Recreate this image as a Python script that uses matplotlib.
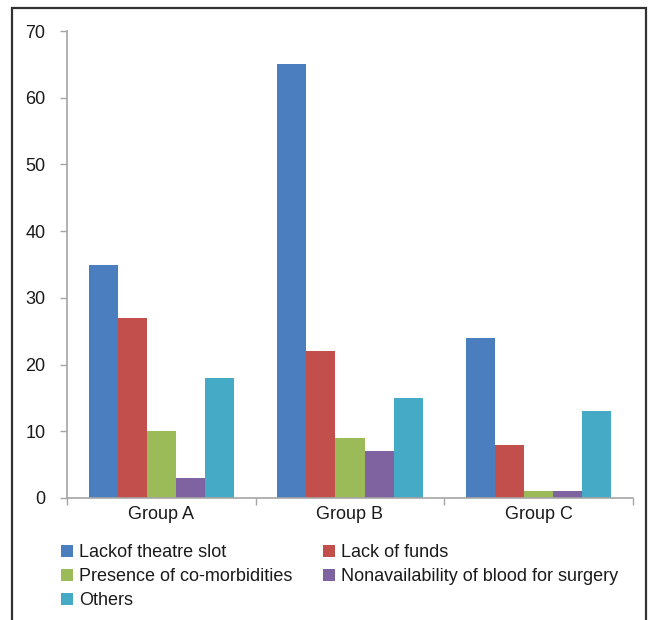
import matplotlib
matplotlib.use("Agg")
import matplotlib.pyplot as plt
from matplotlib.patches import Rectangle, Patch
import numpy as np

plt.rcParams['font.family'] = ['Liberation Sans', 'DejaVu Sans']

groups = ["Group A", "Group B", "Group C"]
series_names = ["Lackof theatre slot", "Lack of funds", "Presence of co-morbidities",
                "Nonavailability of blood for surgery", "Others"]
lack_theatre = [35, 65, 24]
lack_funds = [27, 22, 8]
comorbidities = [10, 9, 1]
no_blood = [3, 7, 1]
others = [18, 15, 13]
colors = ["#4A7EBF", "#C24F4B", "#9BBB59", "#7F63A1", "#44AAC6"]
yticks = [0, 10, 20, 30, 40, 50, 60, 70]

W, H = 651, 620
fig = plt.figure(figsize=(W / 100, H / 100), dpi=100)
ax = fig.add_axes([67 / W, 1 - 498 / H, (633 - 67) / W, (498 - 31) / H])

values = [lack_theatre, lack_funds, comorbidities, no_blood, others]
x = np.arange(len(groups))
bw = 1 / 6.5
handles = []
for i, (vals, c, name) in enumerate(zip(values, colors, series_names)):
    ax.bar(x + (i - 2) * bw, vals, width=bw, color=c, linewidth=0, label=name)
    handles.append(Patch(facecolor=c, edgecolor='none', label=name))

ax.set_xlim(-0.5, 2.5)
ax.set_ylim(0, 70)
ax.set_yticks(yticks)
ax.set_yticklabels([str(t) for t in yticks])
ax.set_xticks([-0.5, 0.5, 1.5, 2.5])
ax.set_xticklabels([])
ax.set_xticks(x, minor=True)
ax.set_xticklabels(groups, minor=True)
ax.tick_params(axis='x', which='major', length=5, width=1, color='#a6a6a6', direction='out')
ax.tick_params(axis='x', which='minor', length=0, pad=6, labelsize=13, labelcolor='#1a1a1a')
ax.tick_params(axis='y', length=5, width=1, color='#a6a6a6', direction='out', pad=10.5,
               labelsize=13, labelcolor='#1a1a1a')
for s in ['top', 'right']:
    ax.spines[s].set_visible(False)
for s in ['left', 'bottom']:
    ax.spines[s].set_color('#a6a6a6')
    ax.spines[s].set_linewidth(1.2)

order = [0, 2, 4, 1, 3]
fig.legend([handles[i] for i in order], [series_names[i] for i in order],
           ncol=2, loc='upper left', bbox_to_anchor=(52 / W, 1 - 535 / H),
           frameon=False, fontsize=13, handlelength=0.65, handleheight=0.65,
           handletextpad=0.33, columnspacing=1.72, labelspacing=0.4, borderpad=0,
           labelcolor='#1a1a1a')

# outer frame
fig.add_artist(Rectangle((12 / W, -0.05), (646 - 12) / W, 1.05 - 7.5 / H,
                         transform=fig.transFigure, fill=False,
                         edgecolor='#333333', linewidth=1.6))

fig.savefig("out.png", dpi=100)
